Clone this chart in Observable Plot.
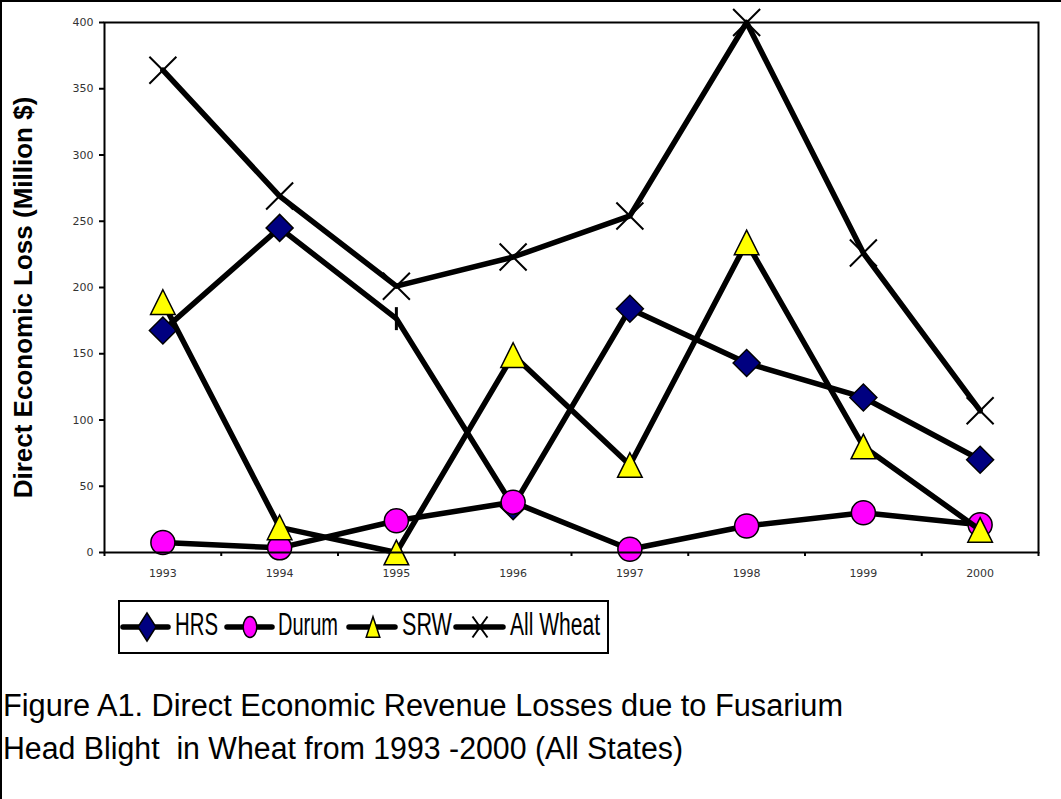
<!DOCTYPE html>
<html>
<head>
<meta charset="utf-8">
<script src="https://cdn.jsdelivr.net/npm/d3@7"></script>
<script src="https://cdn.jsdelivr.net/npm/@observablehq/plot@0.6"></script>
<style>
  html, body { margin: 0; padding: 0; background: #fff; }
  #wrap { position: relative; width: 1061px; height: 799px; overflow: hidden; background: #fff; }
  #border { position: absolute; left: 0; top: 0; width: 1061px; height: 799px; box-sizing: border-box; border-top: 2px solid #000; border-left: 2px solid #000; pointer-events: none; }
  #chart { position: absolute; left: 0; top: 0; }
  #below { position: absolute; left: 0; top: 590px; }
</style>
</head>
<body>
<div id="wrap">
  <div id="chart"></div>
  <div id="below"></div>
  <div id="border"></div>
</div>
<script>
// ---- data ----
const years = [1993, 1994, 1995, 1996, 1997, 1998, 1999, 2000];
const hrs = [167.5, 245, 176.5, 35, 184, 143, 117, 70];
const durum = [7.5, 3.5, 24, 38, 2.5, 20, 30, 21];
const srw = [189, 19, 0, 149, 66, 234, 80, 17];
const allWheat = [364, 269, 201, 223, 254, 400, 226, 107];
const seriesNames = ["HRS", "Durum", "SRW", "All Wheat"];
const yTicks = [0, 50, 100, 150, 200, 250, 300, 350, 400];
const hrsBarMarkerYears = [1995]; // HRS point drawn with a bar marker in the original
const yLabel = "Direct Economic Loss (Million $)";
const captionLines = [
  "Figure A1. Direct Economic Revenue Losses due to Fusarium",
  "Head Blight  in Wheat from 1993 -2000 (All States)"
];

// ---- custom symbols (radius = r option) ----
const rad = size => Math.sqrt(size / Math.PI);
const diamondSym = {draw(c, s) { const r = rad(s); c.moveTo(0, -r); c.lineTo(r, 0); c.lineTo(0, r); c.lineTo(-r, 0); c.closePath(); }};
const circleSym = {draw(c, s) { const r = rad(s); c.moveTo(r, 0); c.arc(0, 0, r, 0, 2 * Math.PI); c.closePath(); }};
const triangleSym = {draw(c, s) { const r = rad(s); c.moveTo(0, -r); c.lineTo(r, r); c.lineTo(-r, r); c.closePath(); }};
const crossSym = {draw(c, s) { const r = rad(s); c.moveTo(-r, -r); c.lineTo(r, r); c.moveTo(r, -r); c.lineTo(-r, r); }};
const barSym = {draw(c, s) { const r = rad(s); c.moveTo(0, -r); c.lineTo(0, r); }};

const rows = name => {
  const vals = {HRS: hrs, Durum: durum, SRW: srw, "All Wheat": allWheat}[name];
  return years.map((year, i) => ({year, value: vals[i], series: name}));
};
const boundaries = years.map(y => y - 0.5).concat([years[years.length - 1] + 0.5]);

const lineOpts = {x: "year", y: "value", stroke: "#000", strokeWidth: 5.5, strokeLinejoin: "round", strokeLinecap: "round"};

const chart = Plot.plot({
  width: 1061,
  height: 590,
  marginLeft: 104,
  marginRight: 23,
  marginTop: 22,
  marginBottom: 38,
  style: {fontFamily: "'DejaVu Sans', Verdana, sans-serif", fontSize: "11px", background: "transparent"},
  x: {domain: [boundaries[0], boundaries[boundaries.length - 1]]},
  y: {domain: [0, 400]},
  marks: [
    Plot.axisY({ticks: yTicks, tickSize: 5, tickPadding: 6, strokeWidth: 2, stroke: "#000", fill: "#333", tickFormat: d => String(d), label: null}),
    Plot.axisX({ticks: years, tickSize: 0, tickPadding: 17, fill: "#333", tickFormat: d => String(d), label: null}),
    Plot.axisX({ticks: boundaries, tickSize: 4, strokeWidth: 2, stroke: "#000", tickFormat: () => "", label: null}),
    Plot.text([yLabel], {frameAnchor: "left", textAnchor: "middle", rotate: -90, dx: -81, dy: 10, fontSize: 26, fontWeight: "bold", fontFamily: "'Liberation Sans', Arial, sans-serif", fill: "#000"}),
    // HRS
    Plot.line(rows("HRS"), lineOpts),
    Plot.dot(rows("HRS"), {x: "year", y: "value", filter: d => !hrsBarMarkerYears.includes(d.year), symbol: diamondSym, r: 13.5, fill: "#000080", stroke: "#000", strokeWidth: 1.5}),
    Plot.dot(rows("HRS"), {x: "year", y: "value", filter: d => hrsBarMarkerYears.includes(d.year), symbol: barSym, r: 11.5, stroke: "#000", strokeWidth: 3}),
    // Durum
    Plot.line(rows("Durum"), lineOpts),
    Plot.dot(rows("Durum"), {x: "year", y: "value", symbol: circleSym, r: 12, fill: "#FF00FF", stroke: "#000", strokeWidth: 1.5}),
    // SRW
    Plot.line(rows("SRW"), lineOpts),
    Plot.dot(rows("SRW"), {x: "year", y: "value", symbol: triangleSym, r: 12.3, fill: "#FFFF00", stroke: "#000", strokeWidth: 1.5}),
    // All Wheat
    Plot.line(rows("All Wheat"), lineOpts),
    Plot.dot(rows("All Wheat"), {x: "year", y: "value", symbol: crossSym, r: 13.5, fill: "none", stroke: "#000", strokeWidth: 2}),
    Plot.frame({stroke: "#000", strokeWidth: 2})
  ]
});
document.getElementById("chart").appendChild(chart);

// ---- legend and caption (below the plot SVG) ----
const below = d3.select("#below").append("svg")
  .attr("width", 1061).attr("height", 209)
  .style("font-family", "'Liberation Sans Narrow', 'Arial Narrow', 'Liberation Sans', sans-serif");

below.append("rect").attr("x", 119).attr("y", 11).attr("width", 489).attr("height", 52)
  .attr("fill", "#fff").attr("stroke", "#000").attr("stroke-width", 2);

const legendItems = [
  {name: seriesNames[0], x1: 123, x2: 168, mx: 147, tx: 175, tl: 43, sym: diamondSym, fill: "#000080", sx: 9, sy: 14},
  {name: seriesNames[1], x1: 227, x2: 272, mx: 250, tx: 278, tl: 60, sym: circleSym, fill: "#FF00FF", sx: 6.8, sy: 10.5},
  {name: seriesNames[2], x1: 349, x2: 395, mx: 373, tx: 402, tl: 50, sym: triangleSym, fill: "#FFFF00", sx: 6.8, sy: 10.3},
  {name: seriesNames[3], x1: 456, x2: 503, mx: 480, tx: 510, tl: 90, sym: crossSym, fill: "none", sx: 7.5, sy: 10.5}
];
const ly = 37;
for (const it of legendItems) {
  below.append("line").attr("x1", it.x1).attr("x2", it.x2).attr("y1", ly).attr("y2", ly)
    .attr("stroke", "#000").attr("stroke-width", 5.5).attr("stroke-linecap", "round");
  below.append("path")
    .attr("d", d3.symbol(it.sym, Math.PI)())
    .attr("transform", `translate(${it.mx},${ly}) scale(${it.sx},${it.sy})`)
    .attr("fill", it.fill).attr("stroke", "#000")
    .attr("stroke-width", it.fill === "none" ? 2 : 1.5)
    .attr("vector-effect", "non-scaling-stroke");
  below.append("text").attr("x", it.tx).attr("y", 45).attr("font-size", 31)
    .attr("textLength", it.tl).attr("lengthAdjust", "spacingAndGlyphs")
    .attr("fill", "#000").text(it.name);
}

const capLens = [840, 680];
captionLines.forEach((t, i) => {
  below.append("text").attr("x", 3).attr("y", 126 + i * 43).attr("font-size", 31)
    .attr("textLength", capLens[i]).attr("lengthAdjust", "spacingAndGlyphs")
    .attr("xml:space", "preserve").style("white-space", "pre")
    .attr("fill", "#000").text(t);
});
</script>
</body>
</html>
